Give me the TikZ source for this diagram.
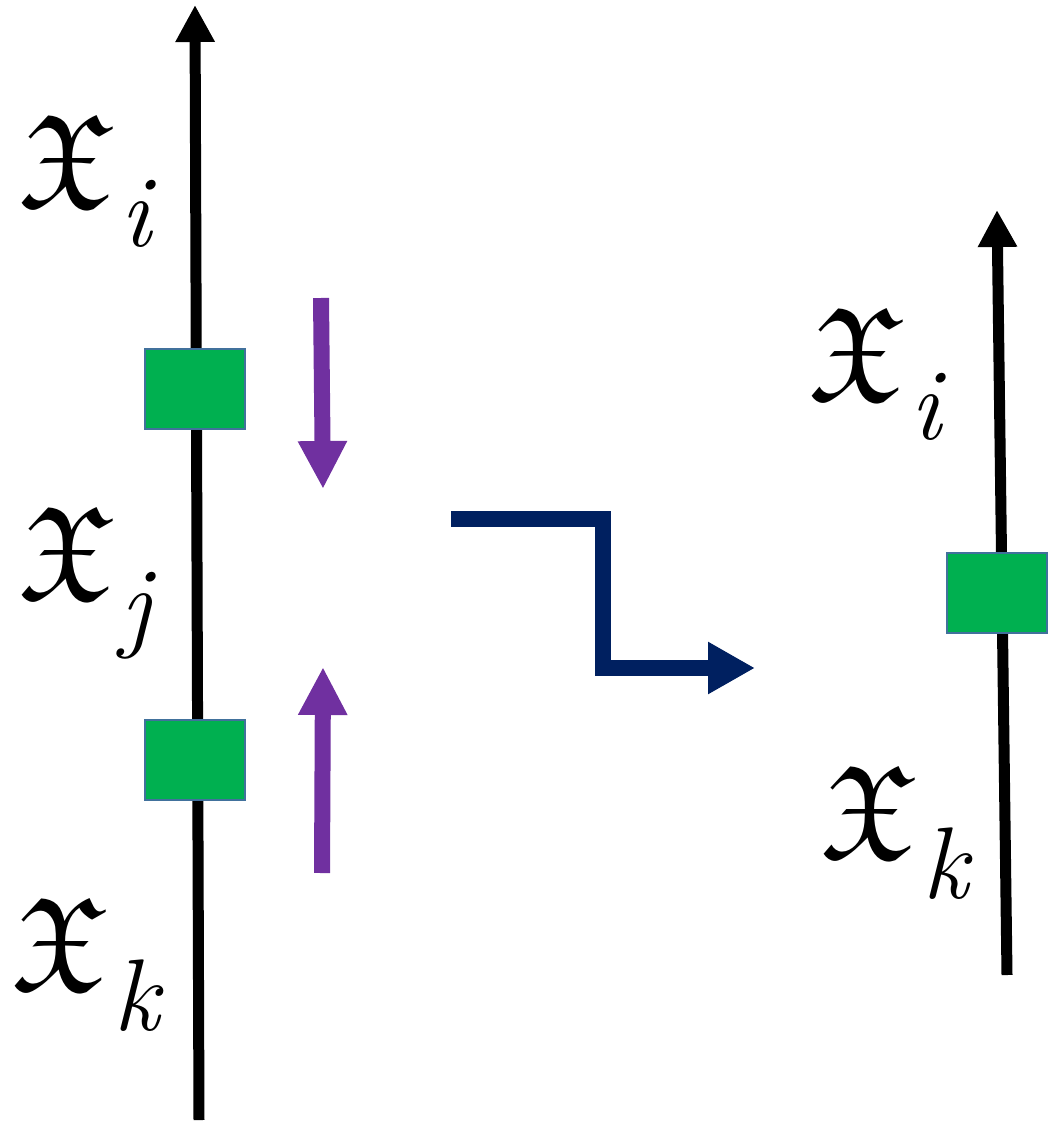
\documentclass[tikz,border=0pt]{standalone}
\usepackage{amssymb}
\usepackage{tikz}
\usetikzlibrary{arrows.meta,positioning}

\definecolor{boxgreen}{HTML}{00B050}
\definecolor{boxedge}{HTML}{41719C}
\definecolor{pushpurple}{HTML}{7030A0}
\definecolor{mapnavy}{HTML}{002060}

% fraktur X with a large, low index
\newcommand{\fraksub}[1]{$\mathfrak{X}$\kern0.12cm\raisebox{-0.8cm}{\fontsize{58}{60}\selectfont\itshape #1}}

\begin{document}
\begin{tikzpicture}[x=0.02cm,y=-0.02cm,line join=miter,
  axis/.style={line width=0.22cm,-{Triangle[length=0.74cm,width=0.74cm]}},
  push/.style={pushpurple,line width=0.32cm,-{Triangle[length=0.96cm,width=0.92cm]}},
  step arrow/.style={mapnavy,line width=0.32cm,-{Triangle[length=0.94cm,width=0.98cm]}},
  green box/.style={rectangle,fill=boxgreen,draw=boxedge,line width=0.8pt,minimum width=2cm,minimum height=1.6cm},
  frak label/.style={anchor=base west,inner sep=0pt,font=\fontsize{76}{80}\selectfont}]

  \useasboundingbox (0,0) rectangle (1051,1122);

  % left axis
  \coordinate (lbot) at (199,1120);
  \coordinate (ltop) at (195,5);
  \draw[axis] (lbot) -- (ltop);

  \node[green box] (b1) at (195,389) {};
  \node[green box] (b2) at (195,760) {};

  \node[frak label] (xi) at (18,207) {\fraksub{i}};
  \node[frak label] (xj) at (18,599) {\fraksub{j}};
  \node[frak label] (xk) at (11,990) {\fraksub{k}};

  % squeezing arrows
  \coordinate (p1) at (321,298);
  \coordinate (p2) at (323,489);
  \coordinate (p3) at (322,873);
  \coordinate (p4) at (323,667);
  \draw[push] (p1) -- (p2);
  \draw[push] (p3) -- (p4);

  % map arrow
  \coordinate (m1) at (451,519);
  \coordinate (m2) at (755,668);
  \draw[step arrow] (m1) -- (603,519) -- (603,668) -- (m2);

  % right axis
  \coordinate (rbot) at (1007,975);
  \coordinate (rtop) at (997,210);
  \draw[axis] (rbot) -- (rtop);

  \node[green box] (b3) at (997,593) {};

  \node[frak label] (ri) at (808,400) {\fraksub{i}};
  \node[frak label] (rk) at (820,858) {\fraksub{k}};

\end{tikzpicture}
\end{document}
